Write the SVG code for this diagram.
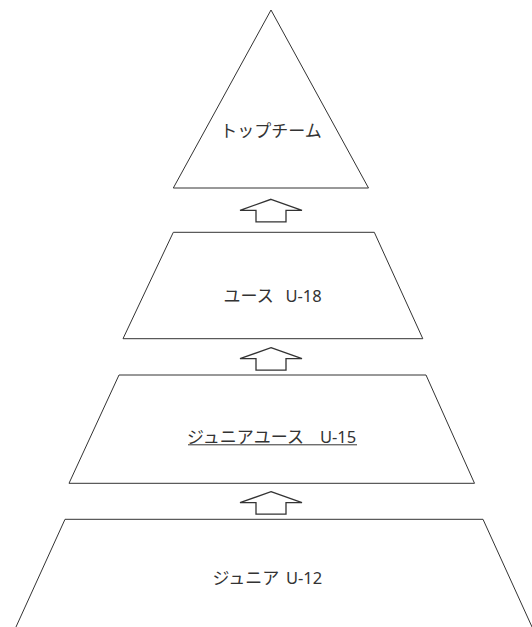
<svg xmlns="http://www.w3.org/2000/svg" xmlns:xlink="http://www.w3.org/1999/xlink" width="532" height="627" viewBox="0 0 532 627">
  <style>
    .shape { fill: #ffffff; stroke: #333333; stroke-width: 1; stroke-linejoin: miter; }
    .arrow { fill: #ffffff; stroke: #333333; stroke-width: 1.3; stroke-linejoin: miter; }
    .jp { font-family: "Noto Sans CJK JP", "Noto Sans", sans-serif; font-size: 17px; fill: #333333; }
    .lat { font-family: "Noto Sans", "Open Sans", sans-serif; font-size: 16.5px; fill: #333333; }
  </style>
  <defs>
    <path id="up-arrow" d="M0,0 L31,11 L15,11 L15,22.5 L-15,22.5 L-15,11 L-31,11 Z"/>
  </defs>
  <rect x="0" y="0" width="532" height="627" fill="#ffffff"/>

  <g id="connectors">
    <use xlink:href="#up-arrow" href="#up-arrow" class="arrow" x="271" y="199.3"/>
    <use xlink:href="#up-arrow" href="#up-arrow" class="arrow" x="271" y="347.7"/>
    <use xlink:href="#up-arrow" href="#up-arrow" class="arrow" x="271" y="491.7"/>
  </g>

  <g id="top-team">
    <polygon class="shape" points="271,10 173.3,188 368.5,188"/>
    <text class="jp" x="271" y="137" text-anchor="middle">トップチーム</text>
  </g>

  <g id="youth-u18">
    <polygon class="shape" points="173.3,232.3 374.3,232.3 422.8,338.7 123,338.7"/>
    <text y="302"><tspan class="jp" x="223.5">ユース</tspan><tspan class="lat" x="285.5">U-18</tspan></text>
  </g>

  <g id="junior-youth-u15">
    <polygon class="shape" points="119,375 426,375 474.5,483.3 69,483.3"/>
    <text y="443"><tspan class="jp" x="187">ジュニアユース</tspan><tspan class="lat" x="320">U-15</tspan></text>
    <line x1="188" y1="444.8" x2="357" y2="444.8" stroke="#333333" stroke-width="1"/>
  </g>

  <g id="junior-u12">
    <polygon class="shape" points="65,519.3 483,519.3 532.5,628 15.5,628"/>
    <text y="583.5"><tspan class="jp" x="212.5">ジュニア</tspan><tspan class="lat" x="286">U-12</tspan></text>
  </g>
</svg>
